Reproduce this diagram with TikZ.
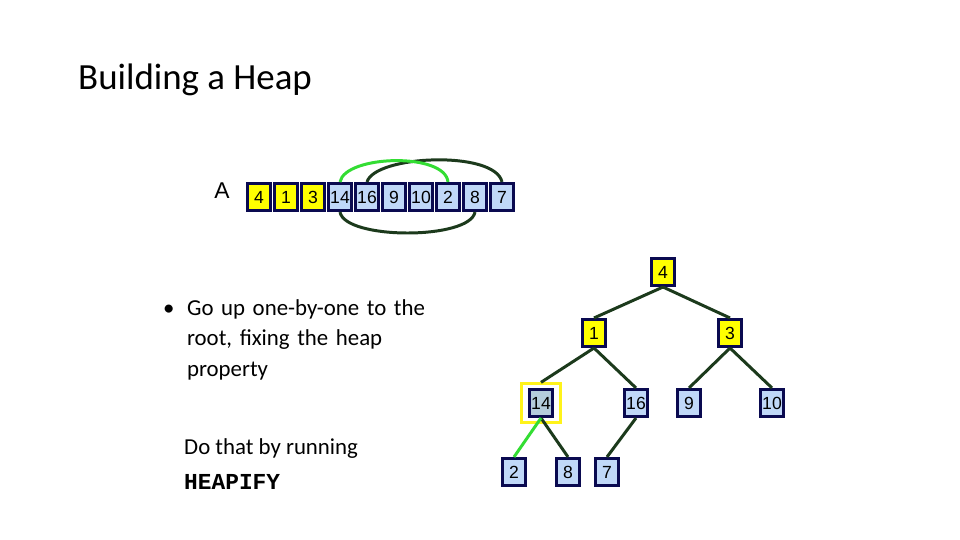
\documentclass[tikz,border=0pt]{standalone}
\usepackage{fontspec}
\setmainfont{Carlito}
\newfontfamily\cellfont{Liberation Sans}
\newfontfamily\codefont{Liberation Mono}
\usetikzlibrary{positioning}

\definecolor{cellblue}{HTML}{C0D8F8}
\definecolor{cellyellow}{HTML}{FFFF00}
\definecolor{framenavy}{HTML}{0A0A50}
\definecolor{edgegreen}{HTML}{1C3A1C}
\definecolor{swapgreen}{HTML}{33DD33}
\definecolor{pickblue}{HTML}{B4CCDC}

\tikzset{
  cell/.style={draw=framenavy,line width=1.6pt,fill=cellblue,minimum width=13.5pt,minimum height=15.5pt,inner sep=0pt,font=\cellfont\fontsize{10}{10}\selectfont},
  hot/.style={cell,fill=cellyellow},
  tedge/.style={draw=edgegreen,line width=1.7pt},
  swap/.style={draw=swapgreen,line width=1.7pt}
}

\begin{document}
\begin{tikzpicture}[x=0.02cm,y=-0.02cm]
  \useasboundingbox (0,0) rectangle (960,540);

  \node[anchor=west,font=\fontsize{21}{21}\selectfont] (title) at (72,80) {Building a Heap};
  \node[font=\cellfont\fontsize{13}{13}\selectfont] (lblA) at (222,191) {A};

  % array
  \foreach \v [count=\i] in {4,1,3,14,16,9,10,2,8,7} {
    \ifnum\i<4
      \node[hot] (a\i) at ({232+27*\i},197) {\v};
    \else
      \node[cell] (a\i) at ({232+27*\i},197) {\v};
    \fi
  }

  % arcs over / under the array
  \draw[tedge] (a5.north) .. controls (375,155) and (495,150) .. (a10.north);
  \draw[swap] (a4.north) .. controls (345,155) and (445,152) .. (a8.north);
  \draw[tedge] (a4.south) .. controls (345,240) and (470,240) .. (a9.south);

  % tree
  \node[hot]  (t4)  at (663,272) {4};
  \node[hot]  (t1)  at (594,333) {1};
  \node[hot]  (t3)  at (730,333) {3};
  \node[cell,fill=pickblue] (t14) at (541,403) {14};
  \node[cell] (t16) at (636,403) {16};
  \node[cell] (t9)  at (689,403) {9};
  \node[cell] (t10) at (772,403) {10};
  \node[cell] (t2)  at (514,472) {2};
  \node[cell] (t8)  at (568,472) {8};
  \node[cell] (t7)  at (607,472) {7};
  \node[draw=yellow!90!white,line width=1.5pt,minimum size=22pt,inner sep=0pt] (pick) at (t14) {};

  \draw[tedge] (t4.south) -- (t1.north);
  \draw[tedge] (t4.south) -- (t3.north);
  \draw[tedge] (t1.south) -- (pick.north);
  \draw[tedge] (t1.south) -- (t16.north);
  \draw[tedge] (t3.south) -- (t9.north);
  \draw[tedge] (t3.south) -- (t10.north);
  \draw[tedge] (t14.south) -- (t8.north);
  \draw[tedge] (t16.south) -- (t7.north);
  \draw[swap] (t14.south) -- (t2.north);

  % text
  \node[anchor=north west,align=left,text width=180pt,font=\fontsize{13}{17.5}\selectfont] (bullet) at (157,293)
    {\makebox[13.6pt][l]{\textbullet}Go up one-by-one to the\\ \hspace*{13.6pt}root, fixing the heap\\ \hspace*{13.6pt}property};
  \node[anchor=north west,align=left,font=\fontsize{13}{20}\selectfont] (doit) at (178,432)
    {Do that by running\\ {\codefont\bfseries HEAPIFY}};
\end{tikzpicture}
\end{document}
